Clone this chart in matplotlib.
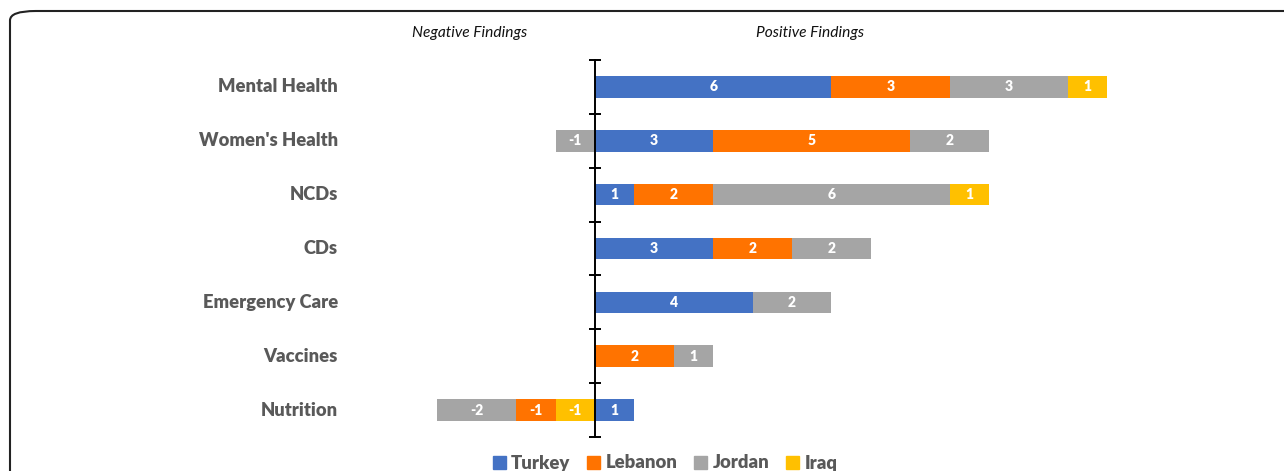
import matplotlib
matplotlib.use("Agg")
import matplotlib.pyplot as plt
import matplotlib.transforms as mtransforms
import numpy as np
from matplotlib.patches import FancyBboxPatch, Patch

plt.rcParams['font.family'] = ['Lato', 'DejaVu Sans']

categories = ['Mental Health', "Women's Health", 'NCDs', 'CDs',
              'Emergency Care', 'Vaccines', 'Nutrition']
countries = ['Turkey', 'Lebanon', 'Jordan', 'Iraq']
colors = {'Turkey': '#4472C4', 'Lebanon': '#FF7300',
          'Jordan': '#A5A5A5', 'Iraq': '#FFC000'}

# positive findings per category
pos = {
    'Turkey':  [6, 3, 1, 3, 4, 0, 1],
    'Lebanon': [3, 5, 2, 2, 0, 2, 0],
    'Jordan':  [3, 2, 6, 2, 2, 1, 0],
    'Iraq':    [1, 0, 1, 0, 0, 0, 0],
}
# negative findings per category
neg = {
    'Iraq':    [0, 0, 0, 0, 0, 0, -1],
    'Lebanon': [0, 0, 0, 0, 0, 0, -1],
    'Jordan':  [0, -1, 0, 0, 0, 0, -2],
}

fig = plt.figure(figsize=(12.84, 4.71), dpi=100)
W, H = 1284, 471
x0_px, scale = 595, 39.4
ax_l, ax_r = 360, 1240
ax = fig.add_axes([ax_l / W, 1 - 437 / H, (ax_r - ax_l) / W, 377 / H])

y = np.arange(len(categories))
bh = 0.4


def stack(series, order):
    left = np.zeros(len(categories))
    for c in order:
        v = np.array(series[c], dtype=float)
        ax.barh(y, v, left=left, height=bh, color=colors[c], zorder=2)
        for i, val in enumerate(v):
            if val != 0:
                ax.text(left[i] + val / 2, i, f'{int(val)}', ha='center', va='center',
                        color='white', fontsize=10, fontweight='heavy', zorder=3)
        left += v


stack(pos, countries)
stack(neg, ['Iraq', 'Lebanon', 'Jordan'])

ax.set_xlim((ax_l - x0_px) / scale, (ax_r - x0_px) / scale)
ax.set_ylim(len(categories) - 0.5, -0.5)

for s in ['top', 'right', 'bottom']:
    ax.spines[s].set_visible(False)
ax.spines['left'].set_position(('data', 0))
ax.spines['left'].set_linewidth(1.4)
ax.spines['left'].set_zorder(4)
ax.set_xticks([])
ax.set_yticks(np.arange(len(categories) + 1) - 0.5)
ax.set_yticklabels([])
ax.tick_params(axis='y', direction='inout', length=8, width=1.4)

trans = mtransforms.blended_transform_factory(fig.transFigure, ax.transData)
for i, cat in enumerate(categories):
    ax.text(338 / W, i, cat, transform=trans, ha='right', va='center',
            fontsize=13.2, fontweight='heavy', color='#595959')

fig.text(470 / W, 1 - 33 / H, 'Negative Findings', ha='center', va='center',
         fontsize=11.2, style='italic', color='#111111')
fig.text(810 / W, 1 - 33 / H, 'Positive Findings', ha='center', va='center',
         fontsize=11.2, style='italic', color='#111111')

handles = [Patch(color=colors[c], label=c) for c in countries]
leg = fig.legend(handles=handles, loc='center', bbox_to_anchor=(665 / W, 1 - 463 / H),
                 ncol=4, frameon=False, handlelength=0.7, handleheight=0.7,
                 handletextpad=0.3, columnspacing=0.9,
                 prop={'size': 13.3, 'weight': 'heavy'})
for t in leg.get_texts():
    t.set_color('#595959')

border = FancyBboxPatch((10 / W, -0.2), 1.2, 1.2 - 11 / H,
                        boxstyle='round,pad=0,rounding_size=0.02',
                        transform=fig.transFigure, fill=False,
                        edgecolor='#222222', linewidth=1.5)
fig.patches.append(border)

fig.savefig('out.png', dpi=100)
